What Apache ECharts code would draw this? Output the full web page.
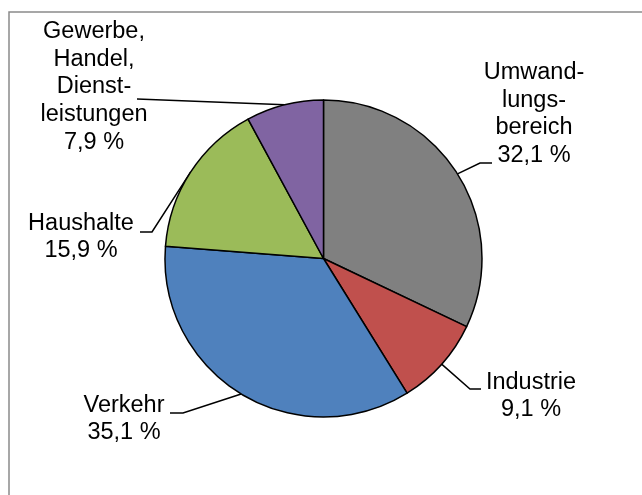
<!DOCTYPE html>
<html>
<head>
<meta charset="utf-8">
<style>
  html, body { margin: 0; padding: 0; background: #fff; }
  #chart { width: 642px; height: 495px; }
</style>
<script src="https://cdn.jsdelivr.net/npm/echarts@6/dist/echarts.min.js"></script>
</head>
<body>
<div id="chart"></div>
<script>
// data (shares in %)
const categories = ['Umwandlungsbereich', 'Industrie', 'Verkehr', 'Haushalte', 'Gewerbe, Handel, Dienstleistungen'];
const shares = [32.1, 9.1, 35.1, 15.9, 7.9];
// label text as broken in the reference
const labelNames = ['Umwand-\nlungs-\nbereich', 'Industrie', 'Verkehr', 'Haushalte', 'Gewerbe,\nHandel,\nDienst-\nleistungen'];
const colors = ['#808080', '#C0504D', '#4F81BD', '#9BBB59', '#8064A2'];

// label placement (text block centre) and leader elbows
const labelPos = [[534, 114], [531, 396], [124, 419], [81, 237], [94, 87]];
const leaderEnds = [[[480, 163], [492, 163]], [[470, 389], [481, 389]], [[183, 413], [170, 413]], [[152, 232], [140, 232]], [[137, 99], [137, 99]]];

const center = [323.5, 258.5];
const radius = 158.5;

const total = shares.reduce((a, b) => a + b, 0);
function midPoint(i) {
  let before = 0;
  for (let k = 0; k < i; k++) before += shares[k];
  const a = (before + shares[i] / 2) / total * 2 * Math.PI;
  return [center[0] + radius * Math.sin(a), center[1] - radius * Math.cos(a)];
}

const chart = echarts.init(document.getElementById('chart'));
chart.setOption({
  animation: false,
  backgroundColor: '#fff',
  graphic: [{
    type: 'rect',
    shape: { x: 9, y: 12, width: 700, height: 600 },
    style: { fill: 'none', stroke: '#8a8a8a', lineWidth: 1.5 },
    silent: true
  }],
  series: [{
    type: 'pie',
    center: center,
    radius: radius,
    startAngle: 90,
    clockwise: true,
    avoidLabelOverlap: false,
    data: categories.map((c, i) => ({ name: c, value: shares[i], itemStyle: { color: colors[i] } })),
    itemStyle: { borderColor: '#000', borderWidth: 1.5 },
    label: {
      show: true,
      position: 'outside',
      color: '#000',
      fontFamily: 'Liberation Sans, Arial, sans-serif',
      fontSize: 23.5,
      lineHeight: 27.7,
      align: 'center',
      formatter: p => labelNames[p.dataIndex] + '\n' + p.value.toFixed(1).replace('.', ',') + ' %'
    },
    labelLine: { show: true, lineStyle: { color: '#000', width: 1.5 } },
    labelLayout: p => {
      const i = p.dataIndex;
      return {
        x: labelPos[i][0],
        y: labelPos[i][1],
        align: 'center',
        verticalAlign: 'middle',
        labelLinePoints: [midPoint(i), leaderEnds[i][0], leaderEnds[i][1]]
      };
    },
    emphasis: { disabled: true }
  }]
});
</script>
</body>
</html>
